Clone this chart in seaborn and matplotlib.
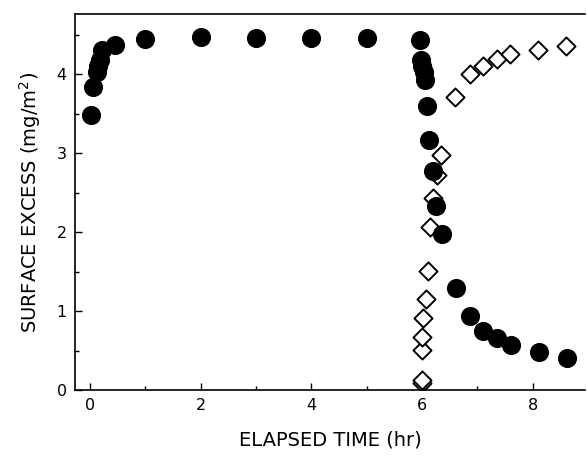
import numpy as np
import pandas as pd
import matplotlib
matplotlib.use("Agg")
import matplotlib.pyplot as plt
import seaborn as sns
from matplotlib.ticker import MultipleLocator

# Filled circles
circle_x = [0.02, 0.06, 0.12, 0.15, 0.18, 0.22, 0.45, 1.0, 2.0, 3.0, 4.0, 5.0,
            5.97, 5.99, 6.01, 6.03, 6.06, 6.1, 6.13, 6.2, 6.26, 6.37, 6.62,
            6.87, 7.11, 7.36, 7.61, 8.12, 8.63]
circle_y = [3.48, 3.83, 4.03, 4.1, 4.18, 4.3, 4.37, 4.44, 4.47, 4.46, 4.45, 4.45,
            4.43, 4.18, 4.1, 4.03, 3.93, 3.6, 3.17, 2.77, 2.33, 1.97, 1.29,
            0.94, 0.75, 0.66, 0.57, 0.48, 0.41]

# Open diamonds
diamond_x = [6.0, 6.0, 6.0, 6.0, 6.02, 6.08, 6.11, 6.15, 6.2, 6.27, 6.35,
             6.6, 6.87, 7.1, 7.36, 7.6, 8.1, 8.6]
diamond_y = [0.09, 0.13, 0.51, 0.67, 0.91, 1.15, 1.51, 2.06, 2.43, 2.72, 2.97,
             3.71, 4.0, 4.1, 4.19, 4.25, 4.3, 4.35]

df = pd.DataFrame({
    "t": circle_x + diamond_x,
    "s": circle_y + diamond_y,
    "series": ["circle"] * len(circle_x) + ["diamond"] * len(diamond_x),
})

sns.set_style("ticks")
plt.rcParams['font.family'] = ['DejaVu Sans']

fig = plt.figure(figsize=(5.88, 4.59), dpi=100)
ax = fig.add_axes([0.1276, 0.150, 0.8674, 0.8195])

sns.scatterplot(data=df[df.series == "diamond"], x="t", y="s", marker="D",
                s=85, facecolor="white", edgecolor="black", linewidth=1.4,
                ax=ax, legend=False, zorder=2)
sns.scatterplot(data=df[df.series == "circle"], x="t", y="s", marker="o",
                s=190, color="black", edgecolor="black", linewidth=0,
                ax=ax, legend=False, zorder=3)

ax.set_xlim(-0.27, 8.95)
ax.set_ylim(0, 4.76)
ax.xaxis.set_major_locator(MultipleLocator(2))
ax.xaxis.set_minor_locator(MultipleLocator(1))
ax.yaxis.set_major_locator(MultipleLocator(1))
ax.yaxis.set_minor_locator(MultipleLocator(0.5))
ax.tick_params(which="both", direction="in", top=False, right=False,
               labelsize=11.5, pad=6, colors="black", labelcolor="black")
ax.tick_params(which="major", length=5, width=1)
ax.tick_params(which="minor", length=3, width=1)

for side in ["left", "bottom", "top"]:
    ax.spines[side].set_visible(True)
    ax.spines[side].set_linewidth(1.2)
    ax.spines[side].set_color("black")
ax.spines["right"].set_visible(False)

ax.set_xlabel("ELAPSED TIME (hr)", fontsize=14, labelpad=12, color="black")
ax.set_ylabel("SURFACE EXCESS (mg/m$^2$)", fontsize=14, labelpad=10, color="black")

fig.savefig("out.png", dpi=100)
